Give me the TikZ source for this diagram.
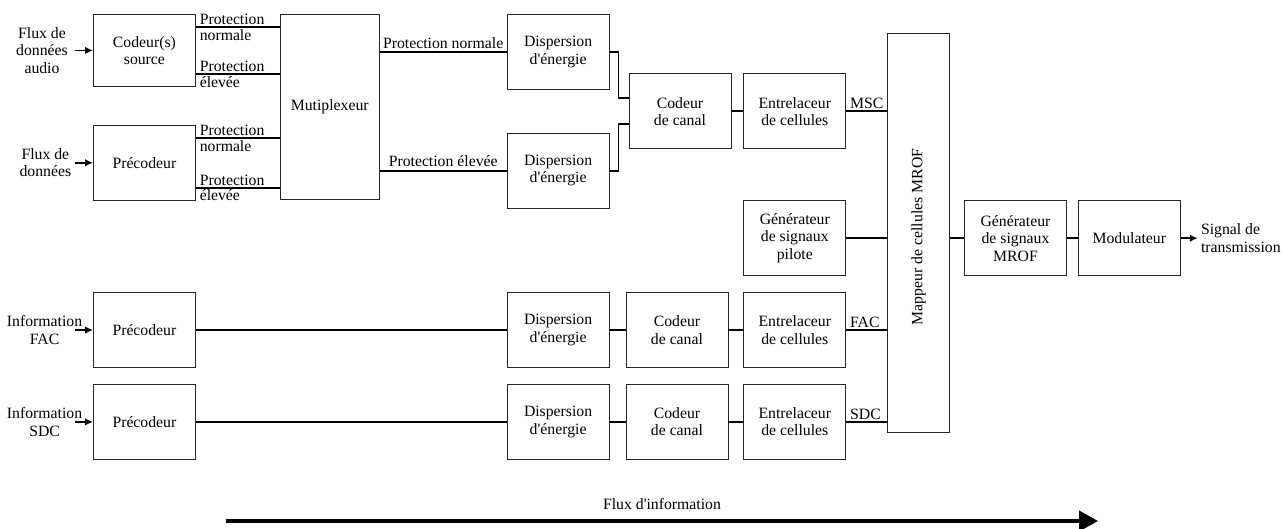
\documentclass[tikz,border=0pt]{standalone}
\usepackage{fontspec}
\setmainfont{Liberation Serif}
\usepackage{tikz}
\usetikzlibrary{arrows.meta,calc,positioning}

\begin{document}
\begin{tikzpicture}[
      font=\fontsize{11.2}{12.4}\selectfont,
      >={Latex[length=2mm,width=1.9mm]},
      link/.style={line width=1.3pt},
      block/.style={draw=black!85, line width=0.6pt, minimum width=25.5mm, minimum height=18.75mm, align=center, inner sep=1pt},
      muxbox/.style={block, minimum width=24.75mm, minimum height=46.25mm},
      mapbox/.style={block, minimum width=15.5mm, minimum height=99.75mm},
      inlabel/.style={align=center, inner sep=0pt},
      tag/.style={inner sep=1pt, xshift=0.4mm},
]

\useasboundingbox (0,0) rectangle (321mm,-132.25mm);

% upper branch: audio and data streams
\node[block, minimum height=18mm, anchor=north west] (src) at (23.25mm,-3.5mm) {Codeur(s)\\source};
\node[block, below=9.5mm of src] (pre1) {Précodeur};
\node[muxbox, right=21mm of src.north east, anchor=north west] (mux) {Mutiplexeur};

\node[block, right=31.75mm of mux.north east, anchor=north west] (disp1) {Dispersion\\d\textquotesingle énergie};
\node[block, below=10.75mm of disp1] (disp2) {Dispersion\\d\textquotesingle énergie};
\coordinate (dmid) at ($(disp1.east)!0.5!(disp2.east)$);
\node[block, right=4.75mm of dmid] (cc1) {Codeur\\de canal};
\node[block, right=3mm of cc1] (ent1) {Entrelaceur\\de cellules};

% FAC and SDC branches
\node[block, below=12.75mm of ent1] (pilot) {Générateur\\de signaux\\pilote};
\node[block, below=4mm of pilot] (entF) {Entrelaceur\\de cellules};
\node[block, left=3.75mm of entF] (ccF) {Codeur\\de canal};
\node[block, left=4mm of ccF] (dispF) {Dispersion\\d\textquotesingle énergie};
\node[block] (preF) at (pre1 |- entF) {Précodeur};

\node[block, below=4mm of entF] (entS) {Entrelaceur\\de cellules};
\node[block, left=3.75mm of entS] (ccS) {Codeur\\de canal};
\node[block, left=4mm of ccS] (dispS) {Dispersion\\d\textquotesingle énergie};
\node[block] (preS) at (pre1 |- entS) {Précodeur};

% mapper and output chain
\node[mapbox, anchor=north west] (map) at ($(ent1.east |- src.north)+(10.25mm,-4.75mm)$) {};
\node[rotate=90] (maptext) at ($(map.center)+(0,-1mm)$) {Mappeur de cellules MROF};
\coordinate (mapout) at (map.east |- pilot.east);
\node[block, right=3.5mm of mapout] (gen) {Générateur\\de signaux\\MROF};
\node[block, right=2.75mm of gen] (modu) {Modulateur};
\coordinate[right=4.25mm of modu] (sigend);
\node[inlabel, align=left, right=0.75mm of sigend] (sig) {Signal de\\transmission};

% inputs
\coordinate[left=4.5mm of src] (a1);
\coordinate[left=4.5mm of pre1] (a2);
\coordinate[left=4.5mm of preF] (aF);
\coordinate[left=4.5mm of preS] (aS);
\node[inlabel] (in1) at ($(a1)+(-8.25mm,0)$) {Flux de\\données\\audio};
\node[inlabel] (in2) at ($(a2)+(-7.4mm,0)$) {Flux de\\données};
\node[inlabel] (inF) at ($(aF)+(-7.6mm,0)$) {Information\\FAC};
\node[inlabel] (inS) at ($(aS)+(-7.6mm,0)$) {Information\\SDC};
\draw[link, ->] (a1) -- (src);
\draw[link, ->] (a2) -- (pre1);
\draw[link, ->] (aF) -- (preF);
\draw[link, ->] (aS) -- (preS);

\foreach \n in {src,pre1} {
  \coordinate (\n-hi) at ($(\n.north east)+(0,-3.25mm)$);
  \coordinate (\n-lo) at ($(\n.south east)+(0,3.25mm)$);
  \draw[link] (\n-hi) -- (\n-hi -| mux.west)
    node[pos=0, tag, anchor=south west] (\n-nt) {Protection}
    node[pos=0, tag, anchor=north west] (\n-nb) {normale};
  \draw[link] (\n-lo) -- (\n-lo -| mux.west)
    node[pos=0, tag, anchor=south west] (\n-et) {Protection}
    node[pos=0, tag, anchor=north west] (\n-eb) {élevée};
}

\draw[link] (mux.east |- disp1.west) -- (disp1.west) node[midway, above=1pt, inner sep=1pt] (pn) {Protection normale};
\draw[link] (mux.east |- disp2.west) -- (disp2.west) node[midway, above=1pt, inner sep=1pt] (pe) {Protection élevée};
\draw[link] (disp1.east) -- ++(2.25mm,0) |- ($(cc1.west)+(0,3.25mm)$);
\draw[link] (disp2.east) -- ++(2.25mm,0) |- ($(cc1.west)+(0,-3.25mm)$);
\draw[link] (cc1) -- (ent1);
\draw[link] (ent1) -- (ent1 -| map.west) node[pos=0, tag, anchor=south west] (msc) {MSC};
\draw[link] (pilot) -- (pilot -| map.west);

\foreach \r/\t in {F/FAC,S/SDC} {
  \draw[link] (pre\r) -- (disp\r);
  \draw[link] (disp\r) -- (cc\r);
  \draw[link] (cc\r) -- (ent\r);
  \draw[link] (ent\r) -- (ent\r -| map.west) node[pos=0, tag, anchor=south west] (lbl\r) {\t};
}

\draw[link] (mapout) -- (gen);
\draw[link] (gen) -- (modu);
\draw[link, ->] (modu) -- (sigend);

% direction of the data flow
\coordinate (flowstart) at (56.5mm,-130.25mm);
\coordinate (flowend) at (274.5mm,-130.25mm);
\draw[line width=1mm, -{Triangle[length=4.75mm,width=5mm]}] (flowstart) -- (flowend)
  node[midway, above=2.25mm, inner sep=0pt] (flowtext) {Flux d\textquotesingle information};

\end{tikzpicture}
\end{document}
